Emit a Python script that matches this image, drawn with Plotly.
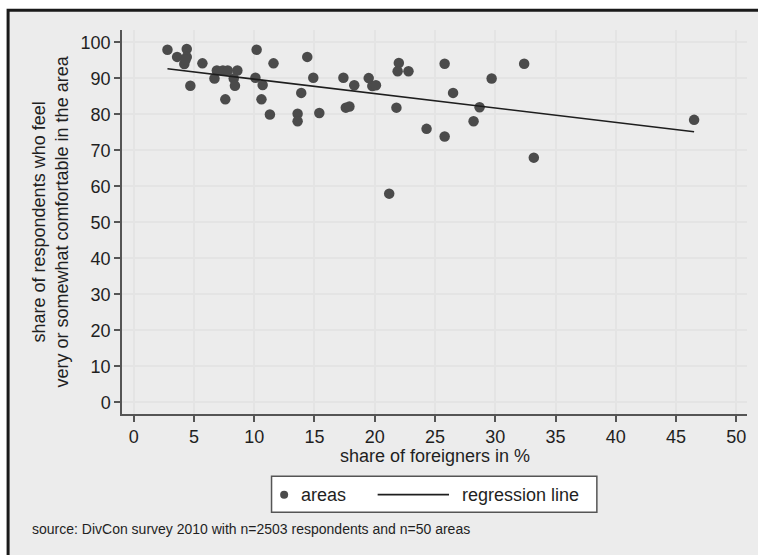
import plotly.graph_objects as go

# ---- data ----
foreigners_pct = [2.8, 3.6, 4.4, 4.4, 4.2, 4.3, 4.7, 5.7, 6.7, 6.9,
                  7.4, 7.8, 7.6, 8.6, 8.3, 8.4, 10.2, 10.1, 10.7, 10.6,
                  11.6, 11.3, 13.6, 13.6, 13.9, 14.4, 14.9, 15.4, 17.4, 18.3,
                  17.6, 17.9, 19.5, 19.8, 20.1, 22.0, 21.9, 22.8, 21.8, 21.2,
                  25.8, 26.5, 24.3, 25.8, 29.7, 28.7, 28.2, 32.4, 33.2, 46.5]
comfortable_pct = [98.0, 96.0, 98.2, 96.0, 94.0, 95.2, 88.0, 94.2, 90.0, 92.2,
                   92.2, 92.2, 84.2, 92.2, 90.0, 88.0, 98.0, 90.2, 88.2, 84.2,
                   94.2, 80.0, 80.2, 78.1, 86.0, 96.0, 90.2, 80.4, 90.2, 88.1,
                   81.9, 82.2, 90.1, 87.9, 88.1, 94.3, 92.0, 92.0, 81.9, 58.0,
                   94.1, 86.0, 76.0, 73.9, 90.0, 82.0, 78.1, 94.1, 68.0, 78.5]
regression_x = [2.8, 46.5]
regression_y = [92.7, 75.2]

x_ticks = [0, 5, 10, 15, 20, 25, 30, 35, 40, 45, 50]
y_ticks = [0, 10, 20, 30, 40, 50, 60, 70, 80, 90, 100]

legend_labels = ["areas", "regression line"]

FONT = "Liberation Sans, Arial, sans-serif"
TXT = "#1f1f1f"
MARKER = "#4b4b4b"

FW, FH = 758, 555

# plot-area geometry in pixels
L, R, T, B = 122.3, 746.7, 30.0, 414.3
W, H = R - L, B - T
def px(xp): return (xp - L) / W
def py(yp): return (B - yp) / H

fig = go.Figure()
fig.add_trace(go.Scatter(
    x=foreigners_pct, y=comfortable_pct, mode="markers", name=legend_labels[0],
    marker=dict(color=MARKER, size=10.5, line=dict(width=0)),
    showlegend=False,
))
fig.add_trace(go.Scatter(
    x=regression_x, y=regression_y, mode="lines", name=legend_labels[1],
    line=dict(color="#1e1e1e", width=1.6),
    showlegend=False,
))

axis_common = dict(
    showgrid=True, gridcolor="#e4e4e4", gridwidth=1.5, zeroline=False,
    showline=True, linecolor="#555555", linewidth=1.5,
    ticks="outside", ticklen=6, tickwidth=1.5, tickcolor="#555555",
    tickfont=dict(size=18, color=TXT),
)

# manual legend box
leg_y = 495
shapes = [
    dict(type="rect", xref="paper", yref="paper", layer="below",
         x0=px(8.5), x1=px(800), y0=py(10.3), y1=py(620),
         fillcolor="#ececec", line=dict(color="#1a1a1a", width=3)),
    dict(type="rect", xref="paper", yref="paper",
         x0=px(271.7), x1=px(596.7), y0=py(476.7), y1=py(512.7),
         fillcolor="white", line=dict(color="#555555", width=1.5)),
    dict(type="circle", xref="paper", yref="paper",
         x0=px(280.3), x1=px(288.3), y0=py(leg_y - 4), y1=py(leg_y + 4),
         fillcolor=MARKER, line=dict(width=0)),
    dict(type="line", xref="paper", yref="paper",
         x0=px(377.7), x1=px(449), y0=py(leg_y), y1=py(leg_y),
         line=dict(color="#1e1e1e", width=1.6)),
]

fig.update_layout(
    width=FW, height=FH,
    margin=dict(l=L, r=FW - R, t=T, b=FH - B, autoexpand=False),
    paper_bgcolor="white",
    plot_bgcolor="white",
    font=dict(family=FONT, size=18, color=TXT),
    showlegend=False,
    xaxis=dict(range=[-0.972, 50.89], tickmode="array", tickvals=x_ticks,
               ticktext=[str(v) for v in x_ticks], **axis_common),
    yaxis=dict(range=[-3.22, 103.47], tickmode="array", tickvals=y_ticks,
               ticktext=[str(v) for v in y_ticks], **axis_common),
    shapes=shapes,
    annotations=[
        dict(text="share of foreigners in %", xref="paper", yref="paper",
             x=px(435), y=py(456), xanchor="center", yanchor="middle",
             showarrow=False, font=dict(size=18, color=TXT)),
        dict(text="share of respondents who feel<br>very or somewhat comfortable in the area",
             xref="paper", yref="paper", x=px(51), y=py(222),
             xanchor="center", yanchor="middle", textangle=-90,
             showarrow=False, font=dict(size=18, color=TXT)),
        dict(text="source: DivCon survey 2010 with n=2503 respondents and n=50 areas",
             xref="paper", yref="paper", x=px(30), y=py(529),
             xanchor="left", yanchor="middle",
             showarrow=False, font=dict(size=14, color=TXT)),
        dict(text=legend_labels[0], xref="paper", yref="paper",
             x=px(299), y=py(leg_y), xanchor="left", yanchor="middle",
             showarrow=False, font=dict(size=18, color=TXT)),
        dict(text=legend_labels[1], xref="paper", yref="paper",
             x=px(460), y=py(leg_y), xanchor="left", yanchor="middle",
             showarrow=False, font=dict(size=18, color=TXT)),
    ],
)

# remove the browser's default 8px body margin so the figure fills the window
fig.write_html(
    "out.html",
    config={"displayModeBar": False},
    post_script="document.body.style.margin='0';document.body.style.overflow='hidden';",
)
